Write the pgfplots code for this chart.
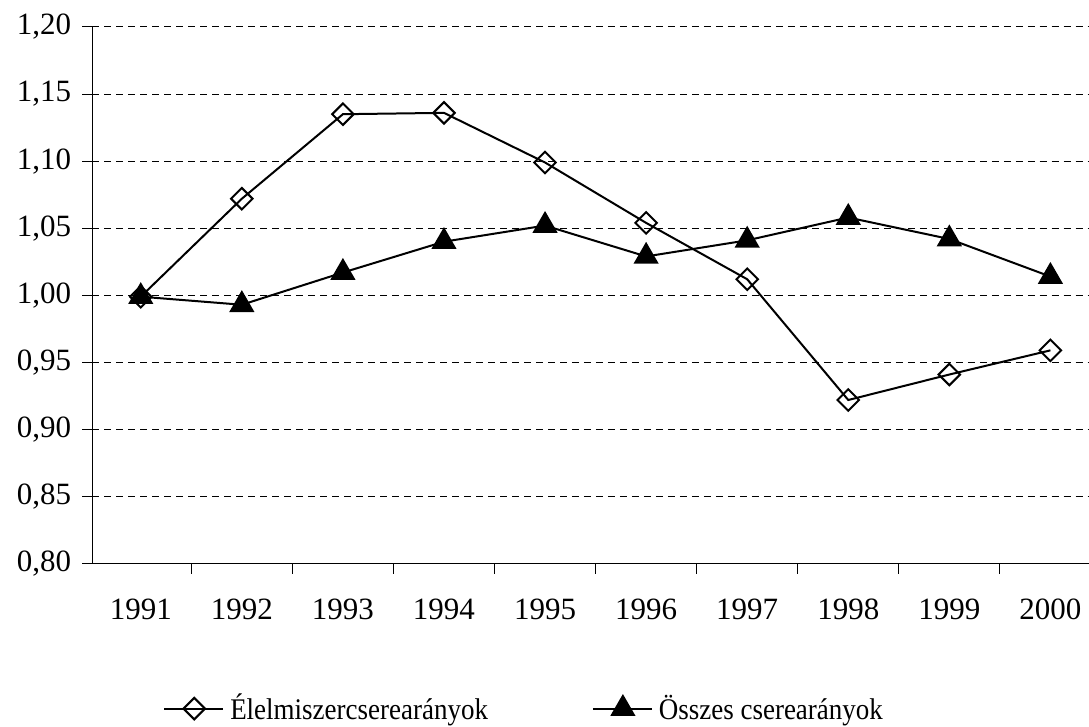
\documentclass[border=0pt]{standalone}
\usepackage{pgfplots}
\pgfplotsset{compat=1.18}
\usepackage{fontspec}
\setmainfont{Liberation Serif}
\newfontfamily\legfont[FakeStretch=0.9]{Liberation Serif}

\begin{document}
\begin{tikzpicture}
\begin{axis}[
    scale only axis,
    width=498.4pt,
    height=268.5pt,
    xmin=-0.48, xmax=9.377,
    ymin=0.80, ymax=1.20,
    axis x line=bottom,
    axis y line=left,
    axis line style={-, line width=0.5pt, black},
    clip=false,
    tick align=outside,
    major tick length=5pt,
    tick style={black, line width=0.5pt},
    ytick={0.80,0.85,...,1.21},
    ymajorgrids,
    grid style={black, line width=0.5pt, dash pattern=on 3.5pt off 2.5pt},
    xtick={0,...,9},
    xticklabels={1991,1992,1993,1994,1995,1996,1997,1998,1999,2000},
    xtick style={draw=none},
    extra x ticks={-0.5,0.5,1.5,2.5,3.5,4.5,5.5,6.5,7.5,8.5},
    extra x tick labels={},
    extra x tick style={grid=none, xtick style={draw=black}},
    ticklabel style={font=\fontsize{15.5}{18}\selectfont},
    yticklabel style={xshift=-2pt},
    xticklabel style={yshift=-9pt},
    /pgf/number format/assume math mode=true,
    yticklabel style={/pgf/number format/.cd, use comma, fixed, fixed zerofill, precision=2},
    legend columns=2,
    legend style={draw=none, inner sep=0pt, at={(0.0709,-0.27)}, anchor=west,
        font=\legfont\fontsize{15}{18}\selectfont,
        /tikz/every odd column/.append style={column sep=1pt},
        /tikz/every even column/.append style={column sep=50pt}},
    legend image code/.code={%
        \draw[mark=none] (0pt,0pt) -- (29.5pt,0pt);
        \draw[only marks] plot coordinates {(15pt,0pt)};},
]
\coordinate (O) at (rel axis cs:0,0);
\addplot[black, line width=1pt, mark=square, mark size=3.8pt,
    mark options={rotate=45, fill=white, line width=1pt, solid}]
    coordinates {
    (0,0.999) (1,1.072) (2,1.135) (3,1.136) (4,1.099)
    (5,1.054) (6,1.012) (7,0.922) (8,0.941) (9,0.959)
};
\addplot[black, line width=1pt, mark=triangle*, mark size=6.3pt,
    mark options={fill=black, solid}]
    coordinates {
    (0,0.999) (1,0.993) (2,1.017) (3,1.040) (4,1.052)
    (5,1.029) (6,1.041) (7,1.058) (8,1.042) (9,1.014)
};
\legend{Élelmiszercserearányok, Összes cserearányok}
\end{axis}
\path (O) ++(-46.15pt,-79pt) rectangle ++(544.5pt,361pt);
\end{tikzpicture}
\end{document}
